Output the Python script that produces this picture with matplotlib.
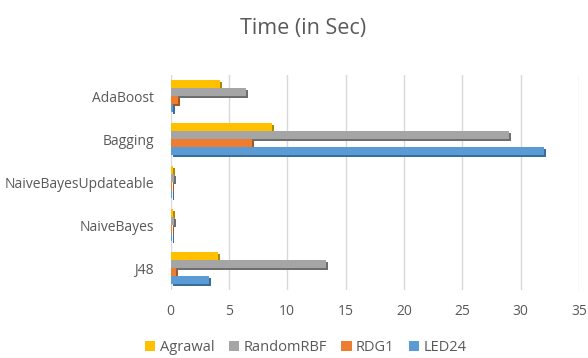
import matplotlib.pyplot as plt
import matplotlib.patheffects as pe
import numpy as np

plt.rcParams['font.family'] = ['Open Sans', 'DejaVu Sans']

# algorithms, bottom to top
algorithms = ['J48', 'NaiveBayes', 'NaiveBayesUpdateable', 'Bagging', 'AdaBoost']

# time in seconds per dataset
agrawal = [4.1, 0.2, 0.2, 8.7, 4.2]
random_rbf = [13.3, 0.3, 0.3, 29.0, 6.5]
rdg1 = [0.5, 0.1, 0.1, 7.0, 0.6]
led24 = [3.3, 0.1, 0.1, 32.0, 0.2]

series = [
    ('Agrawal', agrawal, '#FFC000', '#B38600'),
    ('RandomRBF', random_rbf, '#A5A5A5', '#6E6E6E'),
    ('RDG1', rdg1, '#ED7D31', '#A85520'),
    ('LED24', led24, '#5B9BD5', '#3A6D9C'),
]

fig = plt.figure(figsize=(5.88, 3.58), dpi=100)
ax = fig.add_axes([0.29, 0.191, 0.695, 0.60])

y = np.arange(len(algorithms))
h = 0.185
for i, (name, vals, color, shade) in enumerate(series):
    offset = (1.5 - i) * h
    bars = ax.barh(y + offset, vals, height=h, color=color, label=name, zorder=3)
    # little darker drop shadow on every bar
    for b in bars:
        b.set_path_effects([pe.SimplePatchShadow(offset=(1.5, -1.5), shadow_rgbFace=shade, alpha=1.0),
                            pe.Normal()])

ax.set_xlim(0, 35)
ax.set_ylim(-0.5, 4.5)
ax.set_xticks(np.arange(0, 36, 5))
ax.set_yticks(y)
ax.set_yticklabels(algorithms)
ax.tick_params(axis='both', length=0, labelsize=10, colors='#595959')
ax.tick_params(axis='x', pad=10)
ax.tick_params(axis='y', pad=12)
ax.grid(axis='x', color='#D9D9D9', linewidth=1, zorder=0)
for s in ax.spines.values():
    s.set_visible(False)

fig.suptitle('Time (in Sec)', x=0.515, y=0.95, fontsize=15.5, color='#595959')

leg = fig.legend(loc='lower center', bbox_to_anchor=(0.52, -0.028), ncol=4, frameon=False,
                 fontsize=10.5, handlelength=0.7, handleheight=0.7, handletextpad=0.3,
                 columnspacing=1.0)
for hnd in leg.legend_handles:
    hnd.set_path_effects([])
for t in leg.get_texts():
    t.set_color('#595959')

fig.savefig('out.png', dpi=100)
